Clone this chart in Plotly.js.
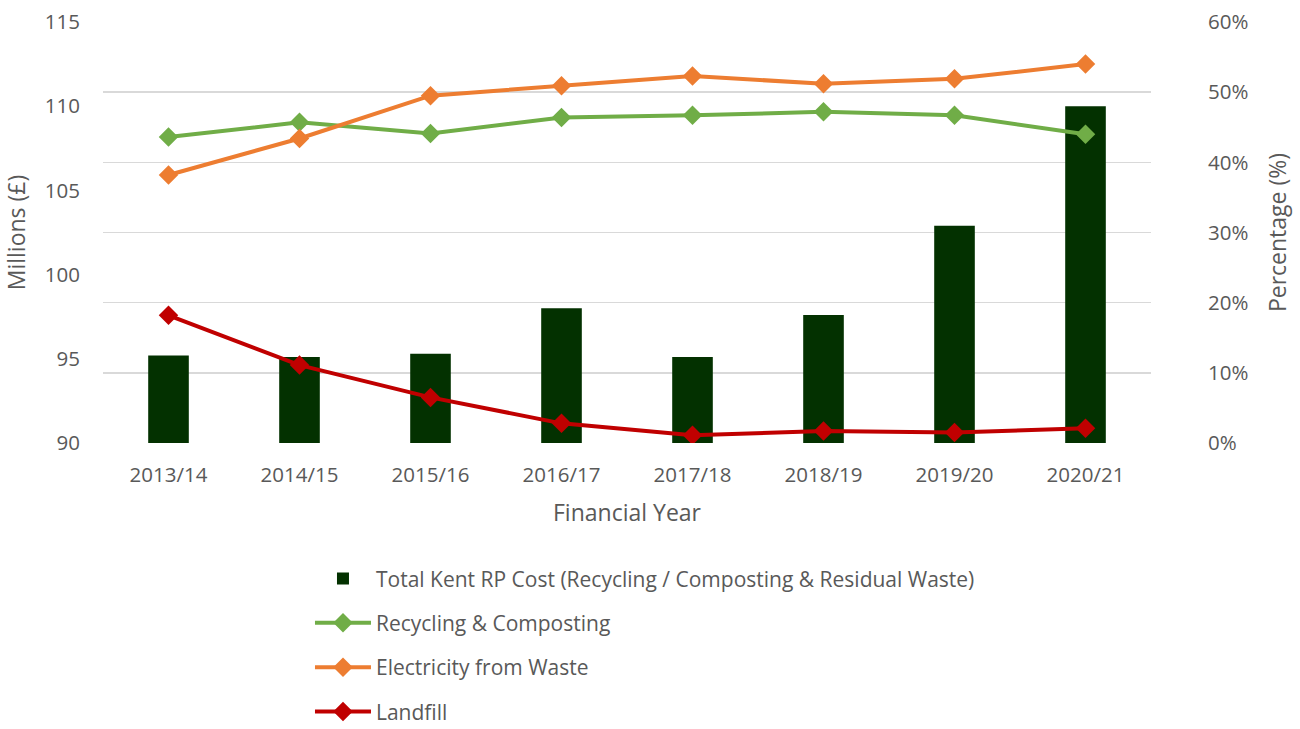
<!DOCTYPE html>
<html>
<head>
<meta charset="utf-8">
<script src="https://cdn.plot.ly/plotly-3.0.1.min.js"></script>
<style>html,body{margin:0;padding:0;background:#fff;}#chart{width:1300px;height:729px;}</style>
</head>
<body>
<div id="chart"></div>
<script>
const years = ["2013/14","2014/15","2015/16","2016/17","2017/18","2018/19","2019/20","2020/21"];
const totalCost = [95.2, 95.1, 95.3, 98.0, 95.1, 97.6, 102.9, 110.0];
const recycling = [43.6, 45.7, 44.1, 46.4, 46.7, 47.2, 46.7, 44.0];
const electricity = [38.2, 43.4, 49.5, 50.9, 52.3, 51.2, 51.9, 54.0];
const landfill = [18.2, 11.1, 6.5, 2.8, 1.1, 1.7, 1.5, 2.1];

const FONT = "'Open Sans', Lato, sans-serif";
const TXT = "#595959";

function lineTrace(name, vals, color, grp) {
  return {
    type: "scatter", mode: "lines+markers", name: name, x: years, y: vals.map(v => v / 100),
    yaxis: "y2", legendgroup: grp,
    line: {color: color, width: 4},
    marker: {symbol: "diamond", size: 15, color: color}
  };
}

const data = [
  {type: "bar", name: "Total Kent RP Cost (Recycling / Composting & Residual Waste)", x: years, y: totalCost,
   marker: {color: "#033100"}, width: 0.31, legendgroup: "a"},
  lineTrace("Recycling & Composting", recycling, "#70AD47", "b"),
  lineTrace("Electricity from Waste", electricity, "#ED7D31", "c"),
  lineTrace("Landfill", landfill, "#C00000", "d")
];

const layout = {
  width: 1300, height: 729,
  margin: {l: 103, r: 149, t: 22, b: 286},
  paper_bgcolor: "#fff", plot_bgcolor: "#fff",
  font: {family: FONT, color: TXT, size: 18},
  showlegend: true,
  legend: {
    orientation: "v", xref: "paper", yref: "container",
    x: 0.1975, xanchor: "left", y: 0.234, yanchor: "top",
    traceorder: "grouped", tracegroupgap: 14, itemwidth: 56,
    font: {family: FONT, size: 21, color: TXT}
  },
  xaxis: {
    type: "category", showgrid: false, zeroline: false, showline: false, ticks: "", tickangle: 0,
    ticklabelstandoff: 17,
    tickfont: {size: 20.5, color: TXT},
    title: {text: "Financial Year", font: {size: 23, color: TXT}, standoff: 18}
  },
  yaxis: {
    range: [90, 115], dtick: 5, showgrid: false, zeroline: false, showline: false, ticks: "",
    ticklabelstandoff: 22,
    tickfont: {size: 20.5, color: TXT},
    title: {text: "Millions (£)", font: {size: 23, color: TXT}, standoff: 12}
  },
  yaxis2: {
    overlaying: "y", side: "right", range: [0, 0.6], dtick: 0.1, tickformat: ".0%",
    showgrid: true, gridcolor: "#D9D9D9", gridwidth: 1.5, zeroline: false, showline: false, ticks: "",
    ticklabelstandoff: 56,
    tickfont: {size: 20.5, color: TXT},
    title: {text: "Percentage (%)", font: {size: 23, color: TXT}, standoff: 22}
  }
};

Plotly.newPlot("chart", data, layout, {displayModeBar: false, staticPlot: true});
</script>
</body>
</html>
